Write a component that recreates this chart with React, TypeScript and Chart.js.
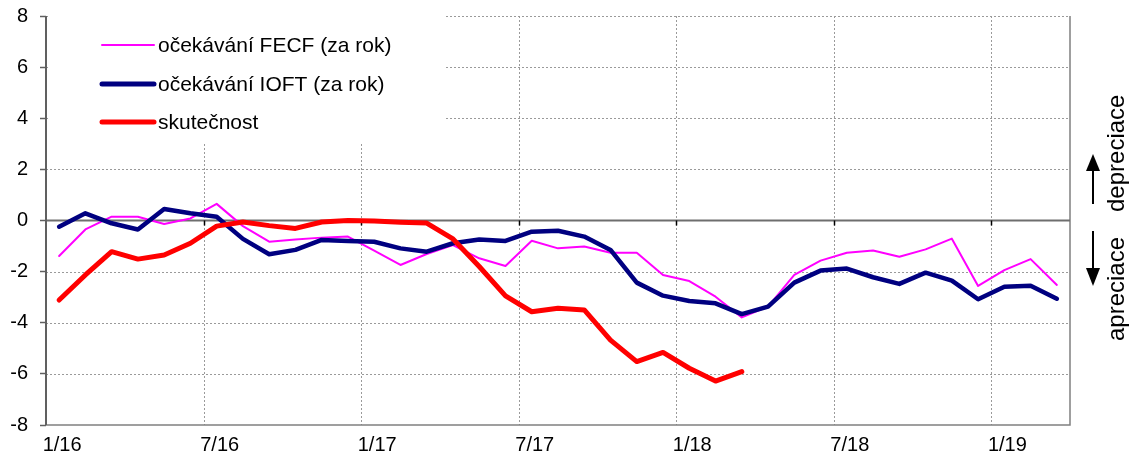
import React, { useEffect, useRef } from "react";
import { Chart, registerables } from "chart.js";

Chart.register(...registerables);

const categories = [
  "1/16", "2/16", "3/16", "4/16", "5/16", "6/16", "7/16", "8/16", "9/16", "10/16", "11/16", "12/16",
  "1/17", "2/17", "3/17", "4/17", "5/17", "6/17", "7/17", "8/17", "9/17", "10/17", "11/17", "12/17",
  "1/18", "2/18", "3/18", "4/18", "5/18", "6/18", "7/18", "8/18", "9/18", "10/18", "11/18", "12/18",
  "1/19", "2/19", "3/19",
];

const fecf = [
  -1.39, -0.35, 0.15, 0.15, -0.14, 0.08, 0.65, -0.22, -0.83, -0.74, -0.67, -0.63,
  -1.18, -1.74, -1.31, -0.96, -1.48, -1.78, -0.79, -1.09, -1.02, -1.26, -1.26, -2.13,
  -2.37, -2.98, -3.79, -3.37, -2.13, -1.57, -1.26, -1.17, -1.42, -1.13, -0.71, -2.56,
  -1.94, -1.51, -2.52,
];

const ioft = [
  -0.24, 0.28, -0.11, -0.35, 0.45, 0.28, 0.15, -0.72, -1.32, -1.15, -0.76, -0.8,
  -0.83, -1.09, -1.22, -0.89, -0.74, -0.8, -0.44, -0.4, -0.63, -1.15, -2.43, -2.94,
  -3.15, -3.24, -3.66, -3.37, -2.43, -1.96, -1.88, -2.22, -2.48, -2.04, -2.35, -3.08,
  -2.59, -2.55, -3.06,
];

const skutecnost: (number | null)[] = [
  -3.11, -2.13, -1.22, -1.51, -1.35, -0.89, -0.22, -0.06, -0.2, -0.31, -0.06, 0.0,
  -0.02, -0.07, -0.1, -0.72, -1.8, -2.95, -3.57, -3.43, -3.5, -4.68, -5.52, -5.16,
  -5.78, -6.28, -5.91, null, null, null, null, null, null, null, null, null,
  null, null, null,
];

const seriesNames = ["očekávání FECF (za rok)", "očekávání IOFT (za rok)", "skutečnost"];
const seriesColors = ["#ff00ff", "#000080", "#ff0000"];
const seriesWidths = [2, 4.5, 5];
const legendWidths = [2, 5, 5];

const FONT = "'Liberation Sans', Arial, sans-serif";
const GRID = "#9a9a9a";
const AXIS = "#808080";

const overlayPlugin = {
  id: "overlay",
  beforeDatasetsDraw(chart: any) {
    const { ctx, chartArea } = chart;
    const x = chart.scales.x;
    const y = chart.scales.y;
    const { left, right, top, bottom } = chartArea;
    ctx.save();
    // horizontal dotted gridlines
    ctx.strokeStyle = GRID;
    ctx.lineWidth = 1;
    ctx.setLineDash([2, 2]);
    for (let v = -6; v <= 8; v += 2) {
      if (v === 0) continue;
      const py = Math.round(y.getPixelForValue(v)) + 0.5;
      ctx.beginPath();
      ctx.moveTo(left, py);
      ctx.lineTo(right, py);
      ctx.stroke();
    }
    // vertical dotted gridlines at every 6th month boundary
    const half = (x.getPixelForValue(1) - x.getPixelForValue(0)) / 2;
    const boundaries: number[] = [];
    for (let i = 6; i < categories.length; i += 6) {
      boundaries.push(Math.round(x.getPixelForValue(i) - half) + 0.5);
    }
    boundaries.forEach((px) => {
      ctx.beginPath();
      ctx.moveTo(px, top);
      ctx.lineTo(px, bottom);
      ctx.stroke();
    });
    ctx.setLineDash([]);
    // border bottom / right
    ctx.strokeStyle = AXIS;
    ctx.lineWidth = 1.5;
    ctx.beginPath();
    ctx.moveTo(left, bottom);
    ctx.lineTo(right, bottom);
    ctx.lineTo(right, top);
    ctx.stroke();
    // zero line
    const y0 = y.getPixelForValue(0);
    ctx.strokeStyle = "#6e6e6e";
    ctx.lineWidth = 2;
    ctx.beginPath();
    ctx.moveTo(left, y0);
    ctx.lineTo(right, y0);
    ctx.stroke();
    // tick marks on zero line
    ctx.strokeStyle = "#000";
    ctx.lineWidth = 1.5;
    boundaries.forEach((px) => {
      ctx.beginPath();
      ctx.moveTo(px, y0);
      ctx.lineTo(px, y0 + 5);
      ctx.stroke();
    });
    // left axis line
    ctx.strokeStyle = "#606060";
    ctx.lineWidth = 2;
    ctx.beginPath();
    ctx.moveTo(left, top);
    ctx.lineTo(left, bottom);
    ctx.stroke();

    // legend box
    ctx.fillStyle = "#ffffff";
    ctx.fillRect(left + 2, top - 1, 397, 127);
    const rows = [45, 84, 122];
    ctx.font = `21px ${FONT}`;
    ctx.textBaseline = "middle";
    ctx.textAlign = "left";
    for (let k = 0; k < 3; k++) {
      ctx.strokeStyle = seriesColors[k];
      ctx.lineWidth = legendWidths[k];
      ctx.lineCap = "round";
      ctx.beginPath();
      ctx.moveTo(102, rows[k]);
      ctx.lineTo(154, rows[k]);
      ctx.stroke();
      ctx.fillStyle = "#000";
      ctx.fillText(seriesNames[k], 158, rows[k] + 1);
    }
    ctx.restore();
  },
  afterDraw(chart: any) {
    const { ctx } = chart;
    ctx.save();
    ctx.fillStyle = "#000";
    ctx.strokeStyle = "#000";
    ctx.lineWidth = 2;
    const ax = 1093;
    // up arrow
    ctx.beginPath();
    ctx.moveTo(ax, 204);
    ctx.lineTo(ax, 166);
    ctx.stroke();
    ctx.beginPath();
    ctx.moveTo(ax, 154);
    ctx.lineTo(ax - 7, 171);
    ctx.lineTo(ax + 7, 171);
    ctx.closePath();
    ctx.fill();
    // down arrow
    ctx.beginPath();
    ctx.moveTo(ax, 231);
    ctx.lineTo(ax, 272);
    ctx.stroke();
    ctx.beginPath();
    ctx.moveTo(ax, 286);
    ctx.lineTo(ax - 7, 268);
    ctx.lineTo(ax + 7, 268);
    ctx.closePath();
    ctx.fill();
    // rotated labels
    ctx.font = `24px ${FONT}`;
    ctx.textBaseline = "middle";
    ctx.textAlign = "left";
    ctx.translate(1117, 212);
    ctx.rotate(-Math.PI / 2);
    ctx.fillText("depreciace", 0, 0);
    ctx.rotate(Math.PI / 2);
    ctx.translate(0, 129);
    ctx.rotate(-Math.PI / 2);
    ctx.fillText("apreciace", 0, 0);
    ctx.restore();
  },
};

export default function App() {
  const canvasRef = useRef<HTMLCanvasElement | null>(null);

  useEffect(() => {
    document.body.style.margin = "0";
    const canvas = canvasRef.current;
    if (!canvas) return;
    const chart = new Chart(canvas, {
      type: "line",
      data: {
        labels: categories,
        datasets: [
          { label: seriesNames[0], data: fecf, borderColor: seriesColors[0], borderWidth: seriesWidths[0], order: 2 },
          { label: seriesNames[1], data: ioft, borderColor: seriesColors[1], borderWidth: seriesWidths[1], order: 1 },
          { label: seriesNames[2], data: skutecnost, borderColor: seriesColors[2], borderWidth: seriesWidths[2], order: 0 },
        ].map((d) => ({
          ...d,
          pointRadius: 0,
          pointHoverRadius: 0,
          tension: 0,
          fill: false,
          spanGaps: false,
          borderJoinStyle: "round" as const,
          borderCapStyle: "round" as const,
        })),
      },
      options: {
        animation: false,
        responsive: false,
        maintainAspectRatio: false,
        events: [],
        layout: { padding: { top: 16, right: 61, bottom: 0, left: 0 } },
        plugins: {
          legend: { display: false },
          tooltip: { enabled: false },
          title: { display: false },
        },
        scales: {
          x: {
            type: "category",
            offset: true,
            grid: { display: false, offset: true },
            border: { display: false },
            ticks: {
              autoSkip: false,
              maxRotation: 0,
              minRotation: 0,
              padding: 0,
              labelOffset: 3,
              color: "#000",
              font: { family: FONT, size: 20 },
              callback: (_v: any, i: number) => (i % 6 === 0 ? categories[i] : ""),
            },
            afterFit: (s: any) => {
              s.height = 38;
              s.paddingLeft = 0;
              s.paddingRight = 0;
            },
          },
          y: {
            min: -8,
            max: 8,
            grid: {
              display: true,
              drawOnChartArea: false,
              drawTicks: true,
              tickLength: 6,
              tickColor: "#606060",
              tickWidth: 1.5,
              color: "#606060",
            },
            border: { display: false },
            ticks: {
              stepSize: 2,
              padding: 12,
              color: "#000",
              font: { family: FONT, size: 20 },
            },
            afterFit: (s: any) => {
              s.width = 46;
              s.paddingTop = 0;
              s.paddingBottom = 0;
            },
          },
        },
      },
      plugins: [overlayPlugin],
    });
    return () => chart.destroy();
  }, []);

  return (
    <div style={{ width: 1131, height: 463, position: "relative" }}>
      <canvas ref={canvasRef} width={1131} height={463} style={{ display: "block" }} />
    </div>
  );
}
